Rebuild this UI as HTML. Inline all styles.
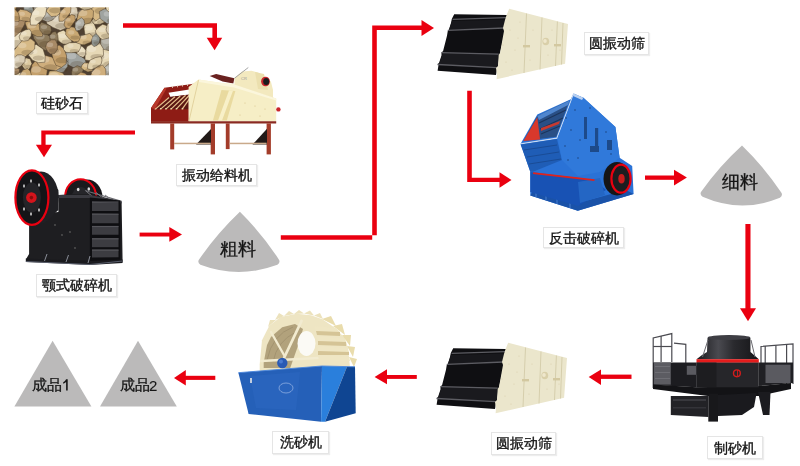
<!DOCTYPE html>
<html><head><meta charset="utf-8">
<style>
html,body{margin:0;padding:0;background:#fff;}
body{width:800px;height:466px;position:relative;overflow:hidden;font-family:"Liberation Sans",sans-serif;}
svg{position:absolute;left:0;top:0;}
.lb{position:absolute;will-change:transform;box-sizing:border-box;border:1px solid #e5e5e5;background:#fff;box-shadow:1px 1px 1px rgba(0,0,0,0.07);font-size:14px;line-height:20px;color:#151515;-webkit-text-stroke:0.35px #151515;text-align:center;white-space:nowrap;}
.tx{position:absolute;will-change:transform;font-size:16px;color:#151515;-webkit-text-stroke:0.3px #151515;white-space:nowrap;line-height:20px;}
</style></head><body>
<svg width="800" height="466" viewBox="0 0 800 466">
<defs>
<clipPath id="rk"><rect x="14.5" y="7.2" width="94.5" height="68"/></clipPath>
<filter id="bl" x="-5%" y="-5%" width="110%" height="110%"><feGaussianBlur stdDeviation="0.6"/></filter>
<linearGradient id="cyl" x1="0" x2="1" y1="0" y2="0">
<stop offset="0" stop-color="#1a1a1d"/><stop offset="0.35" stop-color="#4a4a50"/><stop offset="0.6" stop-color="#2a2a2e"/><stop offset="1" stop-color="#151518"/>
</linearGradient>
</defs>

<!-- rocks -->
<g clip-path="url(#rk)">
<g filter="url(#bl)">
<rect x="10" y="3" width="104" height="77" fill="#4f4030"/>
<polygon points="86.5,64.8 81.9,68.0 73.4,67.5 64.5,62.7 60.2,56.2 64.8,52.9 70.1,49.9 78.6,54.4 85.1,59.3" fill="#9fa3a0" stroke="#4a3a28" stroke-width="0.5" stroke-linejoin="round"/>
<ellipse cx="71.5" cy="56.1" rx="4.8" ry="3.2" fill="#fff" opacity="0.22"/>
<ellipse cx="77.4" cy="64.2" rx="7.0" ry="3.2" fill="#3a2a10" opacity="0.2"/>
<polygon points="97.1,73.3 93.5,65.9 97.8,55.8 104.4,47.4 112.4,46.2 119.1,48.6 119.5,57.8 114.3,68.0 105.2,74.0" fill="#e6d8b6" stroke="#4a3a28" stroke-width="0.5" stroke-linejoin="round"/>
<ellipse cx="104.2" cy="55.8" rx="5.2" ry="3.5" fill="#fff" opacity="0.22"/>
<ellipse cx="110.5" cy="64.4" rx="7.5" ry="3.5" fill="#3a2a10" opacity="0.2"/>
<polygon points="7.2,48.1 3.8,43.0 4.0,35.5 8.9,28.6 16.2,26.2 20.4,31.3 23.7,37.2 20.6,45.7 13.4,48.7" fill="#ebdfc2" stroke="#4a3a28" stroke-width="0.5" stroke-linejoin="round"/>
<ellipse cx="10.1" cy="34.9" rx="5.2" ry="3.5" fill="#fff" opacity="0.22"/>
<ellipse cx="16.5" cy="43.6" rx="7.6" ry="3.5" fill="#3a2a10" opacity="0.2"/>
<polygon points="71.7,75.3 71.5,72.1 72.9,68.3 77.2,65.7 80.6,66.9 83.9,68.6 82.1,72.8 78.4,75.4 74.7,76.5" fill="#8c7a5c" stroke="#4a3a28" stroke-width="0.5" stroke-linejoin="round"/>
<ellipse cx="75.2" cy="69.5" rx="3.0" ry="2.0" fill="#fff" opacity="0.22"/>
<ellipse cx="78.8" cy="74.5" rx="4.3" ry="2.0" fill="#3a2a10" opacity="0.2"/>
<polygon points="69.5,22.1 68.2,27.3 60.5,30.4 52.9,27.4 47.0,24.0 45.2,18.3 52.2,14.6 60.9,13.3 68.1,16.9" fill="#d8ccb4" stroke="#4a3a28" stroke-width="0.5" stroke-linejoin="round"/>
<ellipse cx="56.0" cy="19.0" rx="4.2" ry="2.8" fill="#fff" opacity="0.22"/>
<ellipse cx="61.1" cy="25.9" rx="6.0" ry="2.8" fill="#3a2a10" opacity="0.2"/>
<polygon points="67.7,12.4 64.6,9.0 63.1,4.4 64.3,-1.1 68.4,-2.5 72.0,-2.2 75.3,0.7 75.2,6.5 71.5,9.6" fill="#c9a873" stroke="#4a3a28" stroke-width="0.5" stroke-linejoin="round"/>
<ellipse cx="67.3" cy="1.8" rx="3.3" ry="2.2" fill="#fff" opacity="0.22"/>
<ellipse cx="71.3" cy="7.3" rx="4.7" ry="2.2" fill="#3a2a10" opacity="0.2"/>
<polygon points="36.8,86.3 32.0,81.0 30.0,73.5 31.8,65.0 37.3,58.4 43.6,61.3 47.8,67.3 46.5,75.8 43.2,83.4" fill="#c4a06c" stroke="#4a3a28" stroke-width="0.5" stroke-linejoin="round"/>
<ellipse cx="36.1" cy="69.5" rx="4.8" ry="3.2" fill="#fff" opacity="0.22"/>
<ellipse cx="42.0" cy="77.4" rx="6.9" ry="3.2" fill="#3a2a10" opacity="0.2"/>
<polygon points="28.1,70.5 24.6,69.2 22.0,65.8 21.7,61.5 23.6,58.5 26.6,58.0 30.2,58.9 31.9,63.5 30.3,67.3" fill="#dcc9a0" stroke="#4a3a28" stroke-width="0.5" stroke-linejoin="round"/>
<ellipse cx="24.7" cy="61.5" rx="3.1" ry="2.0" fill="#fff" opacity="0.22"/>
<ellipse cx="28.5" cy="66.7" rx="4.4" ry="2.0" fill="#3a2a10" opacity="0.2"/>
<polygon points="75.3,19.8 71.7,19.2 69.7,14.7 68.6,10.1 70.6,6.9 73.6,5.7 77.1,7.8 78.0,12.7 77.6,16.9" fill="#d8ccb4" stroke="#4a3a28" stroke-width="0.5" stroke-linejoin="round"/>
<ellipse cx="72.1" cy="10.8" rx="2.7" ry="1.8" fill="#fff" opacity="0.22"/>
<ellipse cx="75.4" cy="15.3" rx="3.9" ry="1.8" fill="#3a2a10" opacity="0.2"/>
<polygon points="90.6,22.3 93.5,18.3 96.3,14.4 102.3,13.3 106.8,14.5 108.4,17.7 105.9,21.8 100.1,24.3 94.7,24.2" fill="#e2d2ae" stroke="#4a3a28" stroke-width="0.5" stroke-linejoin="round"/>
<ellipse cx="97.9" cy="16.7" rx="3.3" ry="2.2" fill="#fff" opacity="0.22"/>
<ellipse cx="101.9" cy="22.2" rx="4.7" ry="2.2" fill="#3a2a10" opacity="0.2"/>
<polygon points="118.9,46.5 115.6,51.0 108.9,50.6 102.6,49.1 100.0,44.1 100.8,39.2 105.4,35.4 112.3,37.7 118.4,40.9" fill="#a9a69a" stroke="#4a3a28" stroke-width="0.5" stroke-linejoin="round"/>
<ellipse cx="106.5" cy="41.0" rx="4.5" ry="3.0" fill="#fff" opacity="0.22"/>
<ellipse cx="112.1" cy="48.5" rx="6.5" ry="3.0" fill="#3a2a10" opacity="0.2"/>
<polygon points="104.2,77.9 102.4,74.4 103.3,68.5 108.5,64.0 113.1,63.3 117.4,64.3 116.1,70.2 113.1,75.8 108.0,79.0" fill="#b3b2aa" stroke="#4a3a28" stroke-width="0.5" stroke-linejoin="round"/>
<ellipse cx="107.6" cy="68.6" rx="3.5" ry="2.3" fill="#fff" opacity="0.22"/>
<ellipse cx="111.9" cy="74.4" rx="5.1" ry="2.3" fill="#3a2a10" opacity="0.2"/>
<polygon points="55.6,16.8 52.5,20.0 47.8,21.8 42.4,20.2 38.4,16.7 40.0,12.5 43.7,9.5 49.6,9.5 54.3,12.5" fill="#b3b2aa" stroke="#4a3a28" stroke-width="0.5" stroke-linejoin="round"/>
<ellipse cx="45.5" cy="13.6" rx="3.1" ry="2.1" fill="#fff" opacity="0.22"/>
<ellipse cx="49.3" cy="18.7" rx="4.5" ry="2.1" fill="#3a2a10" opacity="0.2"/>
<polygon points="8.9,37.3 7.4,31.3 9.1,23.5 15.1,16.8 20.9,15.9 27.0,16.1 24.6,24.4 20.9,31.2 15.0,36.4" fill="#a88a66" stroke="#4a3a28" stroke-width="0.5" stroke-linejoin="round"/>
<ellipse cx="14.3" cy="23.0" rx="4.3" ry="2.9" fill="#fff" opacity="0.22"/>
<ellipse cx="19.6" cy="30.2" rx="6.3" ry="2.9" fill="#3a2a10" opacity="0.2"/>
<polygon points="15.4,60.7 11.4,61.3 6.8,59.3 3.3,54.5 3.8,49.7 6.7,46.8 11.6,48.3 15.9,51.9 17.9,57.3" fill="#dcc9a0" stroke="#4a3a28" stroke-width="0.5" stroke-linejoin="round"/>
<ellipse cx="8.3" cy="52.1" rx="3.6" ry="2.4" fill="#fff" opacity="0.22"/>
<ellipse cx="12.8" cy="58.1" rx="5.2" ry="2.4" fill="#3a2a10" opacity="0.2"/>
<polygon points="51.5,51.0 44.9,50.2 38.5,45.5 33.7,38.5 32.0,30.7 37.4,29.3 43.5,31.4 49.9,36.7 51.1,43.8" fill="#8c7a5c" stroke="#4a3a28" stroke-width="0.5" stroke-linejoin="round"/>
<ellipse cx="40.0" cy="36.5" rx="4.6" ry="3.1" fill="#fff" opacity="0.22"/>
<ellipse cx="45.6" cy="44.2" rx="6.6" ry="3.1" fill="#3a2a10" opacity="0.2"/>
<polygon points="12.8,81.9 10.3,79.7 11.4,75.5 14.4,73.1 17.6,71.7 20.6,72.9 21.0,76.7 19.0,80.4 15.8,81.8" fill="#e2d2ae" stroke="#4a3a28" stroke-width="0.5" stroke-linejoin="round"/>
<ellipse cx="14.3" cy="75.3" rx="2.8" ry="1.8" fill="#fff" opacity="0.22"/>
<ellipse cx="17.7" cy="79.9" rx="4.0" ry="1.8" fill="#3a2a10" opacity="0.2"/>
<polygon points="92.8,67.9 92.5,71.0 87.9,72.0 83.9,70.1 81.1,67.8 81.9,65.2 84.2,62.8 89.0,63.0 92.3,65.3" fill="#d6b986" stroke="#4a3a28" stroke-width="0.5" stroke-linejoin="round"/>
<ellipse cx="85.7" cy="65.4" rx="2.7" ry="1.8" fill="#fff" opacity="0.22"/>
<ellipse cx="89.1" cy="70.0" rx="4.0" ry="1.8" fill="#3a2a10" opacity="0.2"/>
<polygon points="94.1,41.0 89.5,40.3 85.0,34.9 83.7,26.7 85.9,20.9 90.3,19.2 94.5,24.7 97.0,30.9 97.8,38.3" fill="#e6d8b6" stroke="#4a3a28" stroke-width="0.5" stroke-linejoin="round"/>
<ellipse cx="88.8" cy="28.0" rx="4.3" ry="2.8" fill="#fff" opacity="0.22"/>
<ellipse cx="94.0" cy="35.1" rx="6.2" ry="2.8" fill="#3a2a10" opacity="0.2"/>
<polygon points="7.7,11.9 4.8,9.5 6.2,4.9 8.8,1.4 12.8,-0.3 15.5,2.4 16.9,6.0 15.4,10.8 11.1,13.0" fill="#c4a06c" stroke="#4a3a28" stroke-width="0.5" stroke-linejoin="round"/>
<ellipse cx="9.2" cy="4.4" rx="3.2" ry="2.1" fill="#fff" opacity="0.22"/>
<ellipse cx="13.1" cy="9.7" rx="4.6" ry="2.1" fill="#3a2a10" opacity="0.2"/>
<polygon points="95.6,21.1 91.5,15.9 91.3,6.7 92.5,-3.8 98.5,-8.0 103.9,-7.5 105.7,0.6 105.6,9.7 101.3,17.1" fill="#d6b986" stroke="#4a3a28" stroke-width="0.5" stroke-linejoin="round"/>
<ellipse cx="95.6" cy="2.3" rx="5.3" ry="3.5" fill="#fff" opacity="0.22"/>
<ellipse cx="102.1" cy="11.0" rx="7.6" ry="3.5" fill="#3a2a10" opacity="0.2"/>
<polygon points="29.1,18.7 25.7,17.0 23.2,11.2 24.3,5.1 25.8,-0.0 29.0,0.8 31.6,4.5 33.6,10.3 32.0,15.9" fill="#8f948f" stroke="#4a3a28" stroke-width="0.5" stroke-linejoin="round"/>
<ellipse cx="26.6" cy="6.9" rx="3.1" ry="2.1" fill="#fff" opacity="0.22"/>
<ellipse cx="30.3" cy="12.0" rx="4.5" ry="2.1" fill="#3a2a10" opacity="0.2"/>
<polygon points="75.6,82.8 73.9,79.2 76.9,75.3 80.8,72.1 85.0,73.3 87.9,76.1 86.2,80.3 83.8,84.8 78.9,84.9" fill="#c4a06c" stroke="#4a3a28" stroke-width="0.5" stroke-linejoin="round"/>
<ellipse cx="79.2" cy="76.7" rx="3.1" ry="2.1" fill="#fff" opacity="0.22"/>
<ellipse cx="83.1" cy="81.9" rx="4.5" ry="2.1" fill="#3a2a10" opacity="0.2"/>
<polygon points="54.4,73.5 54.1,69.2 55.8,64.2 60.6,59.4 65.2,59.6 68.1,61.8 67.6,66.6 63.8,71.9 58.8,73.3" fill="#9fa3a0" stroke="#4a3a28" stroke-width="0.5" stroke-linejoin="round"/>
<ellipse cx="59.1" cy="64.7" rx="3.1" ry="2.0" fill="#fff" opacity="0.22"/>
<ellipse cx="62.9" cy="69.8" rx="4.4" ry="2.0" fill="#3a2a10" opacity="0.2"/>
<polygon points="67.5,86.0 61.3,88.8 53.4,88.2 48.5,81.8 47.7,76.1 49.5,71.0 56.0,70.8 62.8,73.1 67.1,79.1" fill="#d6b986" stroke="#4a3a28" stroke-width="0.5" stroke-linejoin="round"/>
<ellipse cx="53.9" cy="75.6" rx="5.0" ry="3.3" fill="#fff" opacity="0.22"/>
<ellipse cx="60.0" cy="83.9" rx="7.2" ry="3.3" fill="#3a2a10" opacity="0.2"/>
<polygon points="75.8,41.3 76.2,37.5 82.8,35.4 89.5,33.4 92.8,36.2 95.0,39.3 90.1,42.4 84.5,44.8 78.1,44.5" fill="#d6b986" stroke="#4a3a28" stroke-width="0.5" stroke-linejoin="round"/>
<ellipse cx="83.2" cy="37.1" rx="3.5" ry="2.3" fill="#fff" opacity="0.22"/>
<ellipse cx="87.5" cy="42.9" rx="5.0" ry="2.3" fill="#3a2a10" opacity="0.2"/>
<polygon points="61.5,67.3 55.9,70.7 47.2,69.6 39.6,66.4 36.1,61.5 35.5,56.2 42.8,54.8 51.4,56.9 58.3,61.4" fill="#cfae7c" stroke="#4a3a28" stroke-width="0.5" stroke-linejoin="round"/>
<ellipse cx="44.6" cy="59.5" rx="4.8" ry="3.2" fill="#fff" opacity="0.22"/>
<ellipse cx="50.4" cy="67.5" rx="6.9" ry="3.2" fill="#3a2a10" opacity="0.2"/>
<polygon points="44.9,62.2 38.5,62.7 32.5,60.2 28.5,55.2 26.9,49.5 30.4,45.8 36.3,44.4 43.1,49.1 45.2,55.9" fill="#e6d8b6" stroke="#4a3a28" stroke-width="0.5" stroke-linejoin="round"/>
<ellipse cx="33.6" cy="51.4" rx="3.9" ry="2.6" fill="#fff" opacity="0.22"/>
<ellipse cx="38.5" cy="58.0" rx="5.7" ry="2.6" fill="#3a2a10" opacity="0.2"/>
<polygon points="85.1,59.9 85.0,52.8 86.9,46.5 93.0,43.3 99.9,42.9 103.2,48.4 103.6,55.0 98.8,60.6 92.0,61.0" fill="#e6d8b6" stroke="#4a3a28" stroke-width="0.5" stroke-linejoin="round"/>
<ellipse cx="91.4" cy="49.0" rx="4.9" ry="3.2" fill="#fff" opacity="0.22"/>
<ellipse cx="97.4" cy="57.1" rx="7.0" ry="3.2" fill="#3a2a10" opacity="0.2"/>
<polygon points="61.5,67.4 55.9,65.3 53.0,58.5 50.9,50.9 54.4,45.3 59.7,45.3 64.3,49.1 66.6,56.0 66.2,63.8" fill="#c4a06c" stroke="#4a3a28" stroke-width="0.5" stroke-linejoin="round"/>
<ellipse cx="56.6" cy="52.5" rx="4.6" ry="3.1" fill="#fff" opacity="0.22"/>
<ellipse cx="62.3" cy="60.2" rx="6.7" ry="3.1" fill="#3a2a10" opacity="0.2"/>
<polygon points="77.4,24.9 77.0,18.3 78.7,12.5 83.5,8.1 89.4,7.4 93.5,10.8 93.2,16.8 90.2,22.9 84.0,24.6" fill="#c9a873" stroke="#4a3a28" stroke-width="0.5" stroke-linejoin="round"/>
<ellipse cx="82.6" cy="12.9" rx="4.8" ry="3.2" fill="#fff" opacity="0.22"/>
<ellipse cx="88.4" cy="20.9" rx="6.9" ry="3.2" fill="#3a2a10" opacity="0.2"/>
<polygon points="93.1,7.7 88.9,9.4 84.2,10.2 79.7,7.7 76.3,4.6 77.6,1.5 81.4,-0.3 87.2,0.4 91.0,3.8" fill="#e2d2ae" stroke="#4a3a28" stroke-width="0.5" stroke-linejoin="round"/>
<ellipse cx="82.5" cy="3.0" rx="3.1" ry="2.1" fill="#fff" opacity="0.22"/>
<ellipse cx="86.3" cy="8.2" rx="4.5" ry="2.1" fill="#3a2a10" opacity="0.2"/>
<polygon points="83.2,57.3 79.7,56.2 77.1,53.4 74.9,49.3 77.2,46.3 80.1,45.4 83.0,47.0 85.8,50.2 85.7,54.7" fill="#ebdfc2" stroke="#4a3a28" stroke-width="0.5" stroke-linejoin="round"/>
<ellipse cx="79.1" cy="49.1" rx="2.8" ry="1.9" fill="#fff" opacity="0.22"/>
<ellipse cx="82.5" cy="53.8" rx="4.1" ry="1.9" fill="#3a2a10" opacity="0.2"/>
<polygon points="14.8,57.9 13.1,51.5 18.6,44.7 24.1,38.3 30.7,38.6 35.0,42.1 34.6,49.1 28.2,54.6 21.4,59.2" fill="#d6b986" stroke="#4a3a28" stroke-width="0.5" stroke-linejoin="round"/>
<ellipse cx="22.3" cy="45.5" rx="4.2" ry="2.8" fill="#fff" opacity="0.22"/>
<ellipse cx="27.5" cy="52.5" rx="6.1" ry="2.8" fill="#3a2a10" opacity="0.2"/>
<polygon points="71.8,42.0 68.1,44.5 63.1,44.0 58.7,41.3 55.4,36.5 58.1,32.2 63.3,30.2 68.5,33.5 71.9,37.4" fill="#e6d8b6" stroke="#4a3a28" stroke-width="0.5" stroke-linejoin="round"/>
<ellipse cx="62.5" cy="35.8" rx="3.7" ry="2.4" fill="#fff" opacity="0.22"/>
<ellipse cx="67.0" cy="42.0" rx="5.3" ry="2.4" fill="#3a2a10" opacity="0.2"/>
<polygon points="112.3,36.4 107.4,38.4 102.2,39.4 96.9,36.0 95.2,30.8 98.3,27.2 102.6,24.3 108.7,26.2 111.3,31.3" fill="#e2d2ae" stroke="#4a3a28" stroke-width="0.5" stroke-linejoin="round"/>
<ellipse cx="101.8" cy="29.8" rx="3.8" ry="2.5" fill="#fff" opacity="0.22"/>
<ellipse cx="106.4" cy="36.1" rx="5.4" ry="2.5" fill="#3a2a10" opacity="0.2"/>
<polygon points="78.6,41.3 74.0,41.9 69.4,39.1 65.7,34.6 65.9,29.5 69.2,26.6 74.4,27.3 78.0,32.0 80.5,37.1" fill="#c9a873" stroke="#4a3a28" stroke-width="0.5" stroke-linejoin="round"/>
<ellipse cx="71.2" cy="32.4" rx="3.1" ry="2.1" fill="#fff" opacity="0.22"/>
<ellipse cx="75.0" cy="37.6" rx="4.5" ry="2.1" fill="#3a2a10" opacity="0.2"/>
<polygon points="42.4,36.3 37.0,36.4 31.4,33.6 27.1,28.5 24.9,22.5 29.1,20.6 34.2,19.6 40.2,25.0 43.2,31.2" fill="#c9a873" stroke="#4a3a28" stroke-width="0.5" stroke-linejoin="round"/>
<ellipse cx="31.8" cy="25.4" rx="4.4" ry="2.9" fill="#fff" opacity="0.22"/>
<ellipse cx="37.1" cy="32.7" rx="6.3" ry="2.9" fill="#3a2a10" opacity="0.2"/>
<polygon points="54.4,44.0 51.6,43.3 50.1,39.6 49.9,35.2 52.3,32.2 55.5,31.5 57.7,35.1 58.2,39.2 57.1,43.0" fill="#8c7a5c" stroke="#4a3a28" stroke-width="0.5" stroke-linejoin="round"/>
<ellipse cx="52.5" cy="36.4" rx="3.0" ry="2.0" fill="#fff" opacity="0.22"/>
<ellipse cx="56.1" cy="41.4" rx="4.3" ry="2.0" fill="#3a2a10" opacity="0.2"/>
<polygon points="56.6,16.1 51.2,16.6 46.2,11.3 44.3,4.2 45.7,-1.8 50.1,-5.6 55.6,-0.6 60.0,5.1 60.8,12.6" fill="#d6b986" stroke="#4a3a28" stroke-width="0.5" stroke-linejoin="round"/>
<ellipse cx="49.9" cy="3.6" rx="4.2" ry="2.8" fill="#fff" opacity="0.22"/>
<ellipse cx="55.0" cy="10.6" rx="6.0" ry="2.8" fill="#3a2a10" opacity="0.2"/>
<polygon points="33.5,9.9 34.6,6.1 37.9,2.0 44.1,0.7 47.7,2.9 49.9,5.7 47.0,9.6 42.0,12.6 36.1,12.8" fill="#b3b2aa" stroke="#4a3a28" stroke-width="0.5" stroke-linejoin="round"/>
<ellipse cx="40.0" cy="5.0" rx="2.8" ry="1.9" fill="#fff" opacity="0.22"/>
<ellipse cx="43.4" cy="9.7" rx="4.0" ry="1.9" fill="#3a2a10" opacity="0.2"/>
<polygon points="118.6,23.5 113.3,25.1 106.9,23.6 100.0,18.6 99.3,11.6 104.2,8.9 109.9,8.7 116.7,11.7 120.3,18.3" fill="#9fa3a0" stroke="#4a3a28" stroke-width="0.5" stroke-linejoin="round"/>
<ellipse cx="107.8" cy="13.9" rx="4.1" ry="2.7" fill="#fff" opacity="0.22"/>
<ellipse cx="112.8" cy="20.7" rx="5.9" ry="2.7" fill="#3a2a10" opacity="0.2"/>
<polygon points="65.9,27.9 64.0,25.1 64.9,20.5 67.8,16.7 71.5,14.6 75.0,15.6 75.3,20.4 72.4,24.7 69.3,28.7" fill="#c4a06c" stroke="#4a3a28" stroke-width="0.5" stroke-linejoin="round"/>
<ellipse cx="67.8" cy="19.7" rx="2.9" ry="1.9" fill="#fff" opacity="0.22"/>
<ellipse cx="71.3" cy="24.5" rx="4.1" ry="1.9" fill="#3a2a10" opacity="0.2"/>
<polygon points="76.3,31.1 75.0,27.7 75.1,23.7 77.8,20.1 81.4,17.7 83.9,19.8 84.7,23.5 83.0,27.7 79.8,30.2" fill="#b3b2aa" stroke="#4a3a28" stroke-width="0.5" stroke-linejoin="round"/>
<ellipse cx="78.0" cy="22.8" rx="2.9" ry="1.9" fill="#fff" opacity="0.22"/>
<ellipse cx="81.5" cy="27.6" rx="4.1" ry="1.9" fill="#3a2a10" opacity="0.2"/>
<polygon points="92.3,83.9 89.7,79.0 91.7,72.4 96.4,67.1 102.6,64.9 105.7,69.1 106.0,74.7 102.6,79.9 97.7,85.1" fill="#cfae7c" stroke="#4a3a28" stroke-width="0.5" stroke-linejoin="round"/>
<ellipse cx="96.1" cy="72.2" rx="4.4" ry="2.9" fill="#fff" opacity="0.22"/>
<ellipse cx="101.5" cy="79.5" rx="6.3" ry="2.9" fill="#3a2a10" opacity="0.2"/>
<polygon points="93.9,46.6 91.6,44.0 91.5,40.1 92.9,36.5 95.8,33.6 98.4,35.7 99.9,38.5 99.5,42.4 97.1,45.4" fill="#8f948f" stroke="#4a3a28" stroke-width="0.5" stroke-linejoin="round"/>
<ellipse cx="94.1" cy="38.4" rx="2.8" ry="1.9" fill="#fff" opacity="0.22"/>
<ellipse cx="97.5" cy="43.1" rx="4.0" ry="1.9" fill="#3a2a10" opacity="0.2"/>
<polygon points="20.9,83.0 17.8,80.6 19.7,75.1 22.9,70.1 27.4,68.5 30.2,71.1 31.6,75.3 28.2,80.1 24.5,83.4" fill="#c9a873" stroke="#4a3a28" stroke-width="0.5" stroke-linejoin="round"/>
<ellipse cx="22.9" cy="74.3" rx="3.4" ry="2.3" fill="#fff" opacity="0.22"/>
<ellipse cx="27.1" cy="79.9" rx="4.9" ry="2.3" fill="#3a2a10" opacity="0.2"/>
<polygon points="59.1,21.3 58.8,17.0 60.1,12.3 63.8,8.1 68.2,5.5 71.0,7.4 70.6,12.3 67.1,17.2 63.0,21.2" fill="#cfae7c" stroke="#4a3a28" stroke-width="0.5" stroke-linejoin="round"/>
<ellipse cx="62.9" cy="11.7" rx="2.8" ry="1.9" fill="#fff" opacity="0.22"/>
<ellipse cx="66.4" cy="16.4" rx="4.1" ry="1.9" fill="#3a2a10" opacity="0.2"/>
<polygon points="30.9,17.5 29.9,21.4 23.8,21.0 18.1,19.7 16.7,15.7 17.2,12.4 20.4,9.3 26.7,10.4 31.7,13.6" fill="#cfae7c" stroke="#4a3a28" stroke-width="0.5" stroke-linejoin="round"/>
<ellipse cx="22.1" cy="13.8" rx="2.9" ry="2.0" fill="#fff" opacity="0.22"/>
<ellipse cx="25.7" cy="18.7" rx="4.2" ry="2.0" fill="#3a2a10" opacity="0.2"/>
<polygon points="20.2,40.2 19.1,36.8 21.0,32.6 25.0,30.0 29.3,29.0 31.4,32.0 31.1,36.0 28.3,40.5 23.7,41.1" fill="#e6d8b6" stroke="#4a3a28" stroke-width="0.5" stroke-linejoin="round"/>
<ellipse cx="23.7" cy="33.3" rx="3.0" ry="2.0" fill="#fff" opacity="0.22"/>
<ellipse cx="27.3" cy="38.3" rx="4.3" ry="2.0" fill="#3a2a10" opacity="0.2"/>
<polygon points="63.5,49.4 63.5,45.6 69.4,42.7 76.0,42.5 81.0,44.4 80.5,48.1 78.3,52.0 71.5,52.7 65.8,52.3" fill="#e2d2ae" stroke="#4a3a28" stroke-width="0.5" stroke-linejoin="round"/>
<ellipse cx="70.4" cy="45.8" rx="3.2" ry="2.1" fill="#fff" opacity="0.22"/>
<ellipse cx="74.3" cy="51.0" rx="4.6" ry="2.1" fill="#3a2a10" opacity="0.2"/>
<polygon points="30.5,25.0 30.1,18.8 31.9,13.0 36.2,7.0 42.0,5.7 46.9,7.6 45.6,14.6 41.7,20.3 36.3,25.1" fill="#ebdfc2" stroke="#4a3a28" stroke-width="0.5" stroke-linejoin="round"/>
<ellipse cx="35.7" cy="12.7" rx="3.8" ry="2.5" fill="#fff" opacity="0.22"/>
<ellipse cx="40.3" cy="19.0" rx="5.5" ry="2.5" fill="#3a2a10" opacity="0.2"/>
<polygon points="50.4,33.7 47.4,34.7 43.1,34.1 39.7,29.8 39.2,25.4 41.4,22.3 46.1,24.0 50.7,26.2 51.4,30.6" fill="#8c7a5c" stroke="#4a3a28" stroke-width="0.5" stroke-linejoin="round"/>
<ellipse cx="44.0" cy="27.1" rx="3.2" ry="2.1" fill="#fff" opacity="0.22"/>
<ellipse cx="47.9" cy="32.4" rx="4.6" ry="2.1" fill="#3a2a10" opacity="0.2"/>
<polygon points="19.1,73.0 16.1,74.5 12.1,74.4 8.3,72.0 6.5,68.3 8.9,66.1 12.1,64.8 16.0,66.8 19.7,69.6" fill="#a88a66" stroke="#4a3a28" stroke-width="0.5" stroke-linejoin="round"/>
<ellipse cx="11.5" cy="67.9" rx="3.0" ry="2.0" fill="#fff" opacity="0.22"/>
<ellipse cx="15.2" cy="72.9" rx="4.3" ry="2.0" fill="#3a2a10" opacity="0.2"/>
<polygon points="50.4,53.9 47.6,51.4 45.3,47.3 47.3,42.3 51.1,39.8 55.4,39.8 57.5,44.3 57.3,49.6 54.4,53.7" fill="#a88a66" stroke="#4a3a28" stroke-width="0.5" stroke-linejoin="round"/>
<ellipse cx="49.8" cy="44.8" rx="3.4" ry="2.3" fill="#fff" opacity="0.22"/>
<ellipse cx="54.0" cy="50.6" rx="5.0" ry="2.3" fill="#3a2a10" opacity="0.2"/>
<polygon points="12.8,66.5 10.1,63.5 13.7,58.8 17.2,54.9 21.5,54.8 25.3,56.5 24.9,61.6 21.0,66.2 15.9,69.1" fill="#d8ccb4" stroke="#4a3a28" stroke-width="0.5" stroke-linejoin="round"/>
<ellipse cx="16.0" cy="58.9" rx="3.4" ry="2.3" fill="#fff" opacity="0.22"/>
<ellipse cx="20.2" cy="64.6" rx="5.0" ry="2.3" fill="#3a2a10" opacity="0.2"/>
<polygon points="109.2,12.2 106.3,9.7 105.4,5.6 107.3,1.8 110.8,-0.1 114.2,1.4 116.6,4.4 116.9,9.2 113.2,12.1" fill="#e6d8b6" stroke="#4a3a28" stroke-width="0.5" stroke-linejoin="round"/>
<ellipse cx="109.3" cy="4.0" rx="3.1" ry="2.1" fill="#fff" opacity="0.22"/>
<ellipse cx="113.1" cy="9.3" rx="4.5" ry="2.1" fill="#3a2a10" opacity="0.2"/>
<polygon points="107.5,33.4 106.1,29.8 107.3,24.3 112.1,20.5 117.0,18.3 120.2,20.6 119.4,26.0 116.5,31.7 111.1,35.2" fill="#d8ccb4" stroke="#4a3a28" stroke-width="0.5" stroke-linejoin="round"/>
<ellipse cx="111.2" cy="24.5" rx="3.1" ry="2.1" fill="#fff" opacity="0.22"/>
<ellipse cx="115.0" cy="29.7" rx="4.5" ry="2.1" fill="#3a2a10" opacity="0.2"/>
<polygon points="19.0,21.4 15.1,21.2 10.8,19.5 8.1,14.7 7.7,10.3 10.7,8.8 14.7,8.9 18.5,13.1 19.4,17.5" fill="#c4a06c" stroke="#4a3a28" stroke-width="0.5" stroke-linejoin="round"/>
<ellipse cx="12.2" cy="13.1" rx="2.9" ry="1.9" fill="#fff" opacity="0.22"/>
<ellipse cx="15.8" cy="18.0" rx="4.2" ry="1.9" fill="#3a2a10" opacity="0.2"/>
<polygon points="87.5,68.7 87.7,64.9 89.9,60.2 95.7,57.5 101.0,56.5 102.0,60.1 101.1,64.3 95.9,67.7 91.0,69.8" fill="#e2d2ae" stroke="#4a3a28" stroke-width="0.5" stroke-linejoin="round"/>
<ellipse cx="92.9" cy="61.6" rx="2.9" ry="1.9" fill="#fff" opacity="0.22"/>
<ellipse cx="96.5" cy="66.4" rx="4.2" ry="1.9" fill="#3a2a10" opacity="0.2"/>
</g>
</g>

<!-- arrows -->
<g fill="#ea0010">
<path d="M123,23.3 H217 V38 H212.4 V27.7 H123 Z"/>
<polygon points="206.7,37.7 222.2,37.7 214.6,50.2"/>
<path d="M135,130.5 H41.3 V145 H45.6 V134.6 H135 Z"/>
<polygon points="35.9,144.8 52,144.8 44,157.3"/>
<rect x="139.6" y="232.6" width="31" height="3.9"/>
<polygon points="169.3,226.9 182,234.5 169.3,241.7"/>
<path d="M280.8,235.2 H376.8 V30 H422 V25.5 H372.2 V239.7 H280.8 Z"/>
<polygon points="421.5,20 434,28 421.5,36"/>
<path d="M467.2,90.7 H471.8 V177.8 H501 V182 H467.2 Z"/>
<polygon points="499.5,172.2 511.5,179.9 499.5,187.8"/>
<rect x="645" y="175.5" width="30" height="4.3"/>
<polygon points="674,169.7 686.9,177.6 674,185.4"/>
<rect x="745.4" y="224" width="5.1" height="85"/>
<polygon points="740,308.3 756,308.3 748,321.2"/>
<rect x="600" y="374.6" width="31.5" height="4.3"/>
<polygon points="601,369.4 588.7,377 601,384.9"/>
<rect x="386" y="375" width="30.8" height="3.9"/>
<polygon points="387,369.3 374.6,376.9 387,384.3"/>
<rect x="185" y="375.8" width="30.3" height="4.1"/>
<polygon points="185.8,370 174,378 185.8,385.6"/>
</g>

<!-- triangles -->
<g fill="#bbbaba">
<path d="M239.9,211.8 Q261.7,233.3 278.5,258.9 Q281,262 277.4,264.8 Q238.9,279.2 200.4,264.8 Q196.8,262 199.4,259.0 Q217.2,233.3 239.9,211.8 Z"/>
<path d="M742,145.5 Q763.9,166.7 780.9,191.9 Q783.5,195 779.9,197.8 Q741.2,213.7 702.6,196.8 Q699,194 701.7,191.0 Q719.4,166.1 742,145.5 Z"/>
<polygon points="52.6,340.8 14.4,406.4 91.4,406.4"/>
<polygon points="138,340.8 100,406.4 176.8,406.4"/>
</g>

<path d="M66.1,379.2 H67.7 V390.6 H66.1 V382 Q64.8,383.2 63.2,383.8 V382.3 Q65.3,381.2 66.1,379.2 Z" fill="#151515"/>
<!-- feeder -->
<g>
<polygon points="151,108 164.5,87.8 197.6,83.3 197.6,86 188.6,100 188.6,121.6 151,121.6" fill="#8e1c15"/>
<polygon points="168.5,92.8 195.5,88.6 192,94.5 170.5,97" fill="#ffffff"/>
<polygon points="155,109 169.5,97 193,94 188.6,100 188.6,109.6" fill="#5a1512"/>
<g stroke="#e6c08c" stroke-width="1.2">
<line x1="154.8" y1="109.6" x2="169" y2="97.5"/><line x1="160" y1="109.6" x2="175" y2="96.8"/>
<line x1="165.3" y1="109.6" x2="180.3" y2="96"/><line x1="170.5" y1="109.6" x2="185.6" y2="95.3"/>
<line x1="175.8" y1="109.6" x2="190" y2="94.5"/><line x1="181.8" y1="109.6" x2="193" y2="93.8"/>
</g>
<g fill="#f2dcae"><circle cx="155.5" cy="109" r="0.9"/><circle cx="160.7" cy="109" r="0.9"/><circle cx="166" cy="109" r="0.9"/><circle cx="171.2" cy="109" r="0.9"/><circle cx="176.5" cy="109" r="0.9"/><circle cx="182.5" cy="109" r="0.9"/></g>
<polygon points="151,109.6 188.6,109.6 188.6,121.6 151,121.6" fill="#8e1c15"/>
<polygon points="151,108 164.5,87.8 166.5,88.5 155,109" fill="#b8382a"/>
<g fill="#e8d6c0"><rect x="172" y="86" width="0.8" height="2"/><rect x="177" y="85.3" width="0.8" height="2"/><rect x="182" y="84.6" width="0.8" height="2"/><rect x="187" y="84" width="0.8" height="2"/><rect x="192" y="83.5" width="0.8" height="2"/></g>
<polygon points="209.7,76.1 216.1,74 234.4,78.3 233.3,83.6 222.6,81.5" fill="#6a2220"/>
<polygon points="188.6,87 198.5,79.6 222,83 234.5,84 276.2,98.5 276.2,121.2 188.6,121.2" fill="#f6eec6"/>
<polygon points="198.5,79.6 222,83 234.5,84 276.2,98.5 276.2,100.5 234,87.5 221,85.5 199,82" fill="#fbf6dc"/>
<polygon points="234.4,78.3 242,71.5 251.5,70.7 258,72.5 270.9,81.5 273,90 273,97.5 234.5,84.5" fill="#f3e9bf"/>
<polygon points="255,72 264,74 268,90 258,89" fill="#ebdfae"/>
<line x1="234.4" y1="78.3" x2="248.3" y2="67.5" stroke="#9a9a9a" stroke-width="0.9"/>
<text x="241" y="80" font-size="4" fill="#999" font-family="Liberation Sans">CR</text>
<polygon points="221.5,90 235.4,91.1 226.8,120.6 212.9,120.6" fill="#e9da9f"/>
<polygon points="229,90.5 233,90.8 222,120.6 218,120.6" fill="#f8f0c8"/>
<line x1="198.5" y1="80" x2="189" y2="121" stroke="#e0cf9a" stroke-width="0.9"/>
<g fill="#d8c48a"><circle cx="245" cy="103" r="0.6"/><circle cx="255" cy="106" r="0.6"/><circle cx="265" cy="109" r="0.6"/><circle cx="240" cy="115" r="0.6"/><circle cx="260" cy="116" r="0.6"/></g>
<ellipse cx="265.5" cy="81.5" rx="4.4" ry="4.8" fill="#c8242a"/>
<ellipse cx="266.2" cy="81.5" rx="3" ry="3.5" fill="#1c1c1c"/>
<circle cx="278.4" cy="109.4" r="2.2" fill="#c8242a"/>
<polygon points="151,121.2 276.2,121.2 276.2,123.5 151,123.5" fill="#8a2a20"/>
<g fill="#a33c2a">
<rect x="170.2" y="123.4" width="4" height="26"/>
<rect x="210.7" y="123.4" width="4.3" height="31"/>
<rect x="225.8" y="123.4" width="3.8" height="25.7"/>
<rect x="266.6" y="123.4" width="4.3" height="31"/>
</g>
<polygon points="196,144.5 211,129 211,144.5" fill="#221a18"/>
<polygon points="252.5,144.5 267,128.8 267,144.5" fill="#221a18"/>
<rect x="174" y="142.7" width="36.7" height="1.5" fill="#c9a98a"/>
<rect x="229.6" y="142.7" width="37" height="1.5" fill="#c9a98a"/>
</g>

<!-- jaw crusher -->
<g>
<ellipse cx="87" cy="197.5" rx="15.5" ry="18" fill="#151518"/>
<ellipse cx="80.6" cy="197" rx="15.5" ry="17.8" fill="#1a1a1d" stroke="#ea0010" stroke-width="2"/>
<ellipse cx="80.6" cy="198" rx="9" ry="11" fill="#26262a"/>
<ellipse cx="78.2" cy="189.5" rx="1.3" ry="1.8" fill="#ddd"/><ellipse cx="88.8" cy="189" rx="1.3" ry="1.8" fill="#ddd"/>
<polygon points="58.4,195 75,194 90,194 121.6,201.4 122.6,261.8 89.9,264 25.8,259.5 29.1,254 29.1,215 58.4,212" fill="#1e1e21"/>
<polyline points="85,190.5 121.6,201.4" fill="none" stroke="#6a6a70" stroke-width="1.1"/>
<g stroke="#7a7a80" stroke-width="1"><line x1="86" y1="191" x2="93" y2="197"/><line x1="96" y1="192.5" x2="104" y2="199"/><line x1="105" y1="195" x2="112" y2="200"/></g>
<polygon points="58,195 90,195 121.6,201.4 121.6,203.5 90,198 58,198" fill="#3a3a40"/>
<polygon points="89.9,197.6 120.3,200.5 120.3,261.8 89.9,263" fill="#0e0e11"/>
<g fill="#3c3c41">
<polygon points="92,201.5 118.5,203 118.5,211 92,211"/>
<polygon points="92,213.6 118.5,214 118.5,223.3 92,223.3"/>
<polygon points="92,225.9 118.5,226 118.5,234.8 92,234.8"/>
<polygon points="92,238.2 118.5,238.2 118.5,247.2 92,247.2"/>
<polygon points="92,249.6 118.5,249.4 118.5,257.3 92,257.5"/>
</g>
<g fill="#55555a">
<rect x="92" y="201.5" width="26.5" height="1.2"/><rect x="92" y="213.6" width="26.5" height="1.2"/>
<rect x="92" y="225.9" width="26.5" height="1.2"/><rect x="92" y="238.2" width="26.5" height="1.2"/><rect x="92" y="249.6" width="26.5" height="1.2"/>
</g>
<polygon points="25.8,258.5 89.9,261 122.6,259.5 122.6,263 89.9,265 25.8,262" fill="#1a1a1e"/>
<polyline points="26,261.5 89.9,264.5 122.6,261" fill="none" stroke="#6a7080" stroke-width="0.8"/>
<g stroke="#8a8e98" stroke-width="1"><line x1="44.5" y1="261" x2="47" y2="254"/><line x1="66" y1="262" x2="68.5" y2="255"/><line x1="88" y1="263" x2="90" y2="256"/></g>
<g fill="#555"><circle cx="55" cy="225" r="0.9"/><circle cx="62" cy="235" r="0.9"/><circle cx="70" cy="232" r="0.9"/><circle cx="75" cy="248" r="0.9"/></g>
<ellipse cx="41" cy="197" rx="17.5" ry="25.5" fill="#202024"/>
<polygon points="32,170 44,172.9 58.4,190 58.4,210 44,223 32,225.8" fill="#202024"/>
<ellipse cx="31.9" cy="197.6" rx="16.5" ry="27.3" fill="#141417" stroke="#ea0010" stroke-width="2.2"/>
<ellipse cx="31.9" cy="197.6" rx="9" ry="15" fill="#242428"/>
<g fill="#bdbdbd">
<ellipse cx="31" cy="181" rx="1" ry="1.8"/><ellipse cx="39" cy="185" rx="1" ry="1.8"/><ellipse cx="24" cy="186" rx="1" ry="1.8"/>
<ellipse cx="31" cy="214" rx="1" ry="1.8"/><ellipse cx="39" cy="210" rx="1" ry="1.8"/><ellipse cx="24" cy="209" rx="1" ry="1.8"/>
</g>
<circle cx="31.4" cy="197.6" r="5.3" fill="#d4141c"/>
<circle cx="31.4" cy="197.6" r="1.8" fill="#8a0c0c"/>
</g>

<!-- screen 1 -->
<g id="scr">
<polygon points="454.2,14.3 506.6,15.1 508,16 503,40 499,58 496,75 437.6,70.7 438.5,65 437.6,64.3 439.1,62.8 441.5,55.6 441.5,52.4 443.1,50.9 447,35.8 447.9,30.2 448.7,30.2 451,23 451.8,19.1" fill="#0f0f12"/>
<polygon points="452,21 506,19.5 505,27.5 449,30" fill="#18181c"/>
<polygon points="443,52.5 499,54.2 498,67 439,64.5" fill="#1a1a1e"/>
<g stroke="#5c5c62" stroke-width="1.3">
<line x1="452.6" y1="19.3" x2="506" y2="17.7"/>
<line x1="447.9" y1="30.4" x2="504.2" y2="28"/>
<line x1="441.5" y1="52.6" x2="498.7" y2="54.2"/>
<line x1="437.6" y1="64.5" x2="497" y2="67.7"/>
</g>
<polygon points="509.2,8.7 568,24.1 565.1,63.7 496.6,79.2 497,74.7 496,68 498,66 498.7,55 500,53 504,31 503,28 505,20 506.6,15.1" fill="#ebe6cc"/>
<g fill="#d2c7a2" opacity="0.8">
<circle cx="503" cy="45" r="0.6"/><circle cx="510" cy="30" r="0.6"/><circle cx="506" cy="62" r="0.6"/><circle cx="515" cy="50" r="0.6"/><circle cx="512" cy="70" r="0.6"/><circle cx="520" cy="22" r="0.6"/><circle cx="518" cy="38" r="0.6"/><circle cx="533" cy="30" r="0.6"/><circle cx="530" cy="60" r="0.6"/><circle cx="548" cy="55" r="0.6"/><circle cx="552" cy="30" r="0.6"/><circle cx="560" cy="50" r="0.6"/>
</g>
<g stroke="#d3cba8" stroke-width="0.9">
<line x1="526.5" y1="13.5" x2="524" y2="73"/>
<line x1="542" y1="17.5" x2="540" y2="69.5"/>
<line x1="557.4" y1="21.5" x2="555.5" y2="66"/>
<line x1="563" y1="23" x2="561.5" y2="64.5"/>
</g>
<ellipse cx="545.8" cy="41.5" rx="3.4" ry="3.8" fill="#d9cfa9"/>
<ellipse cx="545" cy="41" rx="1.8" ry="2" fill="#efe7cc"/>
<rect x="523" y="45" width="7" height="2.4" fill="#d3c8a0"/>
<rect x="554" y="44" width="7" height="2.4" fill="#d3c8a0"/>
</g>

<!-- impact crusher -->
<g>
<polygon points="573.6,93.6 583.4,97.8 615.4,127.1 619.6,157.8 632.2,166.1 633.6,194 577.8,210.8 530.3,195.4 530.3,171.7 520.6,143.8 537.3,114.5 570.8,99.2" fill="#2a72d6"/>
<polygon points="523.4,141 537.3,115.9 569.4,100.6 556.3,136.8" fill="#294f86"/>
<polygon points="537.3,115.9 569.4,100.6 568,105 539,120" fill="#4f86cf"/>
<g stroke="#1c355c" stroke-width="1.1">
<line x1="539" y1="123" x2="566" y2="110"/><line x1="540" y1="129" x2="563" y2="118"/><line x1="541" y1="134" x2="560" y2="126"/>
</g>
<polygon points="541,128 560,121 559,124 541,131" fill="#c8392e"/>
<polygon points="523.4,141 537.3,117.3 540.1,139.6" fill="#d9382c"/>
<polyline points="520.6,143.8 556.9,138.2 573.6,94" fill="none" stroke="#c9dbf3" stroke-width="1.3"/>
<polygon points="520.6,144.5 556.9,139 562,160 533,171.7 530.3,171.7" fill="#1f5db6"/>
<g stroke="#184a92" stroke-width="0.9">
<line x1="524" y1="150" x2="557" y2="145"/><line x1="527" y1="157" x2="559" y2="152"/><line x1="529" y1="164" x2="561" y2="159"/>
</g>
<polygon points="557.5,138 573.6,95 583.4,97.8 615.4,127.1 619.6,157.8 600,172 578,176 562,160" fill="#3079da"/>
<polygon points="573.6,93.6 583.4,97.8 582,100 573,96" fill="#b9d0f0"/>
<g fill="#1d4a8a">
<rect x="584" y="117" width="3" height="22"/><rect x="595" y="128" width="3.2" height="22"/>
<rect x="590" y="146" width="9" height="6"/><rect x="607" y="140" width="5" height="10"/>
</g>
<g fill="#1a3c70"><circle cx="566" cy="118" r="0.7"/><circle cx="571" cy="130" r="0.7"/><circle cx="565" cy="146" r="0.7"/><circle cx="578" cy="158" r="0.7"/><circle cx="606" cy="132" r="0.7"/><circle cx="611" cy="154" r="0.7"/><circle cx="575" cy="110" r="0.7"/><circle cx="590" cy="108" r="0.7"/><circle cx="568" cy="160" r="0.7"/><circle cx="580" cy="140" r="0.7"/></g>
<polygon points="530.3,195.4 577.8,210.8 633.6,194 626,190 578,203 534,189" fill="#1a52a8"/>
<g stroke="#3d75c8" stroke-width="1.3">
<line x1="536" y1="175" x2="536" y2="197"/><line x1="546" y1="176" x2="546" y2="200"/><line x1="557" y1="177.5" x2="557" y2="204"/><line x1="570" y1="179" x2="570" y2="208"/>
</g>
<polygon points="530.3,172 594.5,180.1 606,190 577.8,206 530.3,192" fill="#1852b4"/>
<polygon points="578,182 600,178 605,195 580,203" fill="#2466c4"/>
<line x1="533.1" y1="173.1" x2="594.5" y2="180.1" stroke="#e0231c" stroke-width="1.7"/>
<ellipse cx="617" cy="178.7" rx="13.5" ry="16.8" fill="#151517"/>
<ellipse cx="621" cy="178.7" rx="9.6" ry="14" fill="#1d1d20" stroke="#ea0010" stroke-width="2.2"/>
<ellipse cx="621.5" cy="178.7" rx="3.2" ry="4.8" fill="#c81c1c"/>
</g>

<!-- sand maker -->
<g fill="none" stroke="#4a4a50" stroke-width="1.2">
<polyline points="653.2,388 653.2,337.9 671.8,333.6 671.8,362"/>
<line x1="661.1" y1="336" x2="661.1" y2="362"/>
<polyline points="674,343.2 685.8,344.3 685.8,385"/>
<line x1="653.2" y1="346.5" x2="671.8" y2="346.5"/>
<polyline points="761,386 761,346.5 793,343.9 793,384"/>
<line x1="765.2" y1="346" x2="765.2" y2="364"/>
<line x1="775.9" y1="345.2" x2="775.9" y2="364"/>
<line x1="786.6" y1="344.5" x2="786.6" y2="384"/>
<line x1="761" y1="363.6" x2="793" y2="363.6"/>
</g>
<g>
<polygon points="653,362.6 696.5,362.6 696.5,387.3 653,385" fill="#1c1c20"/>
<rect x="653.8" y="362.6" width="17" height="22" fill="#5c5c62"/>
<g fill="#6e6e74"><rect x="655" y="366" width="15" height="1"/><rect x="655" y="372" width="15" height="1"/><rect x="655" y="378" width="15" height="1"/></g>
<rect x="686.8" y="365.8" width="11" height="9" fill="#5a5a60"/>
<polygon points="758.8,362.6 793,362.6 793,383 758.8,386" fill="#202024"/>
<rect x="765.5" y="364.7" width="25" height="18.3" fill="#5a5a60"/>
<polygon points="653,384.5 696.5,387.3 758.8,386 791,383 791,389 758.8,395.9 708,395.9 653,389" fill="#131316"/>
<polygon points="707.5,338 729,335.5 750.4,338 750.5,352 754,355 758.8,359.3 696.5,359.3 702,355 707,352" fill="url(#cyl)"/>
<ellipse cx="729" cy="337.5" rx="21.4" ry="2.5" fill="#3e3e44"/>
<g stroke="#6a6a70" stroke-width="1"><line x1="702.5" y1="357" x2="708" y2="340"/><line x1="755" y1="357" x2="751" y2="340"/></g>
<rect x="696.5" y="359.2" width="62.3" height="3.6" fill="#e41c1c"/>
<rect x="696.5" y="362.6" width="62.3" height="24.7" fill="#26262a"/>
<rect x="696.5" y="362.6" width="20" height="24.7" fill="#1d1d20"/>
<circle cx="736.9" cy="373.3" r="3.4" fill="none" stroke="#d41c1c" stroke-width="1.4"/>
<rect x="737" y="370" width="0.9" height="6.5" fill="#d41c1c"/>
<polygon points="670.8,395.9 708.3,395.9 708.3,417 670.8,415" fill="#222226"/>
<rect x="673" y="399" width="33" height="2" fill="#38383d"/>
<rect x="673" y="407" width="33" height="1.5" fill="#333338"/>
<polygon points="718,395 756.6,393 754,407 742,415 718,416" fill="#1a1a1e"/>
<rect x="708.3" y="393.7" width="9.7" height="27.9" fill="#18181b"/>
<polygon points="758,392 770.5,392 769.5,415 763,415" fill="#1b1b1f"/>
</g>

<!-- screen 2 -->
<use href="#scr" transform="translate(-1,334)"/>

<!-- sand washer -->
<g>
<polygon points="259.7,372 259.7,364.3 262,340.2 269.3,325.7 280.6,316.9 296.6,313.7 311,315.3 322.4,319.3 335.2,328.1 345,338.6 348.1,348.3 349.7,364.3 350,372" fill="#eee5c3"/>
<g fill="#ece2bc">
<polygon points="275,320 279,313 284,316"/><polygon points="284,316 289,311 294,314"/><polygon points="294,314 299,310 304,313.5"/>
<polygon points="304,313.5 310,310.5 314,315.5"/><polygon points="314,315.5 320,313 323,319"/><polygon points="268,327 270,320 276,320"/>
</g>
<g fill="#e9dcac">
<polygon points="322,319 331,316 336,326"/><polygon points="333,326 342,324 345,335"/><polygon points="342,335 351,335 350,346"/>
<polygon points="347,346 355,347 353,357"/><polygon points="349,357 357,359 354,367"/>
</g>
<polygon points="263.7,368 263.7,362.7 267,345 270.9,337 282.2,327.3 295,324.1 303,329 298.3,345 290.2,368" fill="#b2a27c"/>
<g stroke="#9c8c6a" stroke-width="0.7" fill="none"><path d="M267,360 Q272,335 293,327"/><path d="M273,362 Q277,341 296,332"/></g>
<ellipse cx="306.5" cy="343.5" rx="9" ry="12.5" fill="#fbfaf5"/>
<g stroke="#f2ebd0" stroke-linecap="round">
<line x1="284" y1="358" x2="301.5" y2="321" stroke-width="2.8"/>
<line x1="271" y1="332" x2="284" y2="355" stroke-width="2.4"/>
<line x1="261" y1="361" x2="318" y2="358" stroke-width="2.4"/>
</g>
<g fill="#efe6c4">
<polygon points="314,326 336,328 340,332 316,331"/><polygon points="316,336 343,338 346,342 318,341"/>
<polygon points="317,346 347,348 349,352 318,351"/><polygon points="318,355 349,357 350,361 319,360"/>
</g>
<g fill="#d5c496">
<polygon points="316,331 340,332 340,336 317,335"/><polygon points="318,341 346,342 346,346 318,345"/>
<polygon points="318,351 349,352 349,355 318,355"/>
</g>
<circle cx="282.3" cy="363" r="5.2" fill="#2a5ab4"/>
<circle cx="281" cy="361.5" r="2" fill="#4a7ad0"/>
<polygon points="238.4,372.7 322,366 321.1,421.7 248.6,414" fill="#2560b8"/>
<polygon points="250,376 300,372 296,410 256,408" fill="#2d68c0" opacity="0.6"/>
<polygon points="322,366 347,366.8 325,421.7 321.1,421.7" fill="#2a7fdc"/>
<polygon points="347,366.8 355,366.8 355.7,413.2 325,421.7" fill="#0f4592"/>
<polyline points="238.4,372.7 322,366 355,366.8" fill="none" stroke="#4a86dc" stroke-width="0.9"/>
<g fill="none" stroke="#b9cdf0" stroke-width="0.7" opacity="0.8"><ellipse cx="286" cy="388" rx="7" ry="5"/></g>
<rect x="250" y="378" width="2" height="5" fill="#e8e8e8" opacity="0.8"/>
</g>
</svg>

<div class="lb" style="left:36px;top:92px;width:52px;height:22px;">硅砂石</div>
<div class="lb" style="left:176px;top:164px;width:81px;height:22px;">振动给料机</div>
<div class="lb" style="left:36px;top:274px;width:81px;height:23px;">颚式破碎机</div>
<div class="lb" style="left:584px;top:32px;width:65px;height:23px;">圆振动筛</div>
<div class="lb" style="left:543px;top:227px;width:81px;height:21px;">反击破碎机</div>
<div class="lb" style="left:707px;top:436px;width:56px;height:23px;line-height:22px;">制砂机</div>
<div class="lb" style="left:491px;top:432px;width:65px;height:23px;">圆振动筛</div>
<div class="lb" style="left:272px;top:431px;width:57px;height:23px;">洗砂机</div>

<div class="tx" style="left:219.5px;top:239px;font-size:18px;">粗料</div>
<div class="tx" style="left:721.5px;top:172px;font-size:18px;">细料</div>
<div class="tx" style="left:32px;top:375px;font-size:14.5px;">成品</div>
<div class="tx" style="left:119.8px;top:375px;font-size:14.5px;">成品</div><div class="tx" style="left:148.7px;top:376px;font-size:15px;-webkit-text-stroke:0.1px #151515;">2</div>
</body></html>
